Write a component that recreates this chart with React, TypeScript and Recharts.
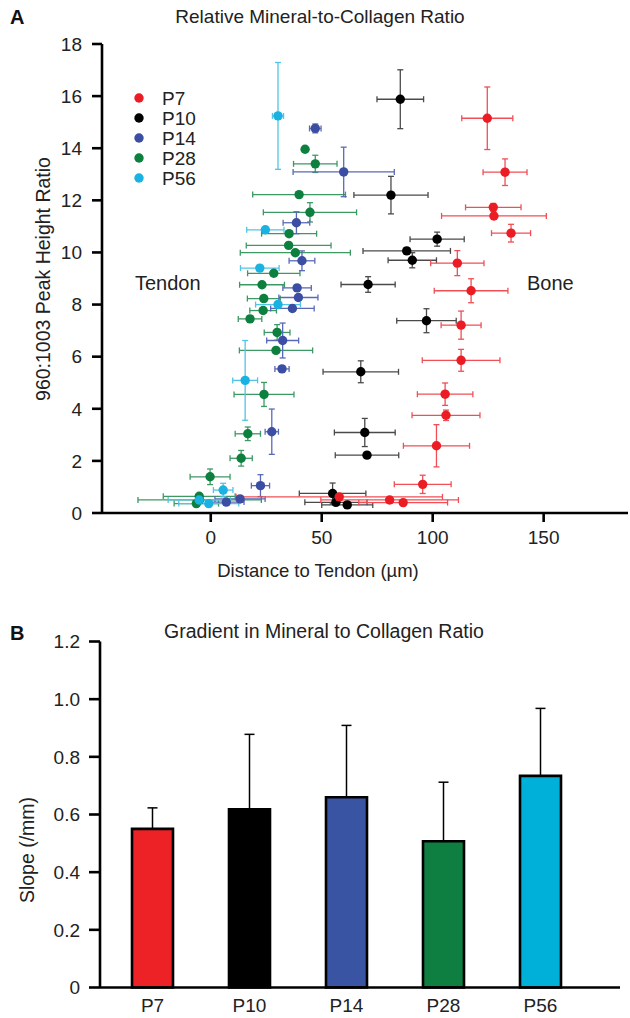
import React from 'react';
import { ScatterChart, Scatter, XAxis, YAxis, ErrorBar, BarChart, Bar, Cell } from 'recharts';

const FONT = '"Liberation Sans", Arial, Helvetica, sans-serif';

// ---- Panel A data ----
const seriesNames = ['P7', 'P10', 'P14', 'P28', 'P56'];
const seriesColors = ['#ec1c24', '#000000', '#3b4ea3', '#0d7f3f', '#1ab2e1'];
const errorColors = ['#ef4f55', '#4a4a4a', '#5a69b6', '#3d9963', '#52c4e6'];

const p7X = [124.6, 132.6, 127.3, 127.6, 135.3, 111.1, 117.3, 112.8, 112.8, 105.6, 106.0, 101.7, 95.5, 80.6, 86.7, 57.9];
const p7Y = [15.15, 13.08, 11.73, 11.4, 10.74, 9.59, 8.53, 7.21, 5.86, 4.56, 3.75, 2.58, 1.1, 0.5, 0.4, 0.62];
const p7XErr = [11.5, 9.9, 12.5, 23.6, 8.8, 12.0, 16.6, 9.0, 17.5, 12.5, 15.3, 14.9, 12.8, 31.0, 20.0, 46.5];
const p7YErr = [1.2, 0.51, 0.15, 0.1, 0.34, 0.48, 0.46, 0.54, 0.42, 0.43, 0.2, 0.81, 0.35, 0.1, 0.1, 0.1];

const p10X = [85.4, 81.2, 102.0, 88.3, 90.8, 70.9, 97.2, 67.6, 69.4, 70.4, 54.9, 56.4, 61.5];
const p10Y = [15.88, 12.2, 10.51, 10.06, 9.7, 8.77, 7.38, 5.42, 3.09, 2.22, 0.75, 0.41, 0.31];
const p10XErr = [10.5, 16.7, 12.2, 19.7, 10.9, 12.2, 13.4, 17.0, 13.7, 14.3, 15.0, 14.0, 11.5];
const p10YErr = [1.13, 0.72, 0.27, 0.1, 0.29, 0.3, 0.46, 0.42, 0.54, 0.1, 0.4, 0.1, 0.1];

const p14X = [47.1, 59.9, 38.6, 41.1, 38.9, 39.5, 36.8, 32.4, 32.1, 27.5, 22.4, 13.2, 7.0];
const p14Y = [14.76, 13.09, 11.14, 9.68, 8.64, 8.27, 7.85, 6.62, 5.53, 3.12, 1.05, 0.54, 0.42];
const p14XErr = [2.6, 22.8, 6.0, 5.8, 6.4, 8.8, 9.8, 7.2, 3.2, 3.0, 4.1, 11.3, 8.0];
const p14YErr = [0.17, 0.95, 0.42, 0.38, 0.1, 0.1, 0.1, 0.67, 0.1, 0.87, 0.42, 0.1, 0.1];

const p28X = [42.5, 47.1, 39.8, 44.7, 35.3, 35.1, 38.1, 28.4, 23.1, 23.9, 23.6, 17.7, 29.9, 29.4, 24.0, 16.7, 13.7, -0.3, -5.2, -5.0, -6.5];
const p28Y = [13.96, 13.4, 12.22, 11.54, 10.72, 10.27, 9.99, 9.2, 8.76, 8.23, 7.77, 7.45, 6.93, 6.24, 4.55, 3.04, 2.1, 1.39, 0.64, 0.5, 0.36];
const p28XErr = [0, 9.8, 20.9, 21.0, 12.4, 19.1, 24.8, 11.8, 10.1, 7.4, 6.0, 5.3, 5.8, 16.5, 13.5, 5.7, 5.0, 9.0, 16.2, 27.8, 10.0];
const p28YErr = [0, 0.33, 0.1, 0.37, 0.1, 0.1, 0.1, 0.1, 0.1, 0.1, 0.1, 0.1, 0.3, 0.1, 0.46, 0.26, 0.3, 0.3, 0.1, 0.1, 0.1];

const p56X = [30.3, 24.6, 22.1, 30.3, 15.5, 5.6, -5.2, -0.9];
const p56Y = [15.24, 10.87, 9.4, 8.0, 5.09, 0.88, 0.5, 0.36];
const p56XErr = [2.5, 8.4, 8.7, 10.1, 5.6, 4.4, 14.0, 13.5];
const p56YErr = [2.05, 0.1, 0.1, 0.1, 1.53, 0.26, 0.1, 0.1];

const xTicks = [0, 50, 100, 150];
const yTicks = [0, 2, 4, 6, 8, 10, 12, 14, 16, 18];

// ---- Panel B data ----
const barCategories = ['P7', 'P10', 'P14', 'P28', 'P56'];
const barValues = [0.55, 0.618, 0.66, 0.507, 0.734];
const barErrors = [0.073, 0.26, 0.249, 0.205, 0.234];
const barColors = ['#ec2227', '#000000', '#3a54a4', '#0e7f41', '#00b0d9'];
const barTicks = [0, 0.2, 0.4, 0.6, 0.8, 1.0, 1.2];

const build = (xs: number[], ys: number[], exs: number[], eys: number[]) =>
  xs.map((x, i) => ({ x, y: ys[i], ex: exs[i], ey: eys[i] }));

const scatterSeries = [
  { name: 'P7', data: build(p7X, p7Y, p7XErr, p7YErr), idx: 0 },
  { name: 'P10', data: build(p10X, p10Y, p10XErr, p10YErr), idx: 1 },
  { name: 'P14', data: build(p14X, p14Y, p14XErr, p14YErr), idx: 2 },
  { name: 'P28', data: build(p28X, p28Y, p28XErr, p28YErr), idx: 3 },
  { name: 'P56', data: build(p56X, p56Y, p56XErr, p56YErr), idx: 4 },
];
const drawOrder = ['P28', 'P14', 'P56', 'P10', 'P7'];

const barData = barCategories.map((name, i) => ({ name, value: barValues[i], err: [0, barErrors[i]] }));

const dotShape = (color: string) => (props: any) => {
  const cx = props.cx ?? (props.x + (props.width || 0) / 2);
  const cy = props.cy ?? (props.y + (props.height || 0) / 2);
  return <circle cx={cx} cy={cy} r={4.7} fill={color} />;
};

const axisStyle = { stroke: '#000', strokeWidth: 2.6 };
const tickStyle = { fill: '#222', fontSize: 19, fontFamily: FONT };

export default function App() {
  return (
    <div style={{ position: 'absolute', left: 0, top: 0, width: 630, height: 1018, background: '#fff', fontFamily: FONT }}>
      <div style={{ position: 'absolute', left: 0, top: 0 }}>
        <ScatterChart width={630} height={590} margin={{ top: 44, right: 2, bottom: 27, left: 0 }}>
          <XAxis
            type="number"
            dataKey="x"
            domain={[-49, 188]}
            ticks={xTicks}
            allowDataOverflow
            height={50}
            tickSize={9}
            tickMargin={9}
            axisLine={axisStyle}
            tickLine={axisStyle}
            tick={tickStyle}
          />
          <YAxis
            type="number"
            dataKey="y"
            domain={[0, 18]}
            ticks={yTicks}
            allowDataOverflow
            width={102}
            tickSize={10}
            tickMargin={10}
            axisLine={axisStyle}
            tickLine={axisStyle}
            tick={tickStyle}
          />
          {drawOrder.map((n) => {
            const s = scatterSeries.find((q) => q.name === n)!;
            return (
              <Scatter key={n} name={n} data={s.data} isAnimationActive={false} shape={dotShape(seriesColors[s.idx])}>
                <ErrorBar dataKey="ex" direction="x" width={3} stroke={errorColors[s.idx]} strokeWidth={1.3} isAnimationActive={false} />
                <ErrorBar dataKey="ey" direction="y" width={3} stroke={errorColors[s.idx]} strokeWidth={1.3} isAnimationActive={false} />
              </Scatter>
            );
          })}
        </ScatterChart>
      </div>

      <div style={{ position: 'absolute', left: 0, top: 600 }}>
        <BarChart width={630} height={418} data={barData} margin={{ top: 41.5, right: 10, bottom: 0, left: 0 }}>
          <XAxis
            dataKey="name"
            height={30.5}
            tickLine={false}
            axisLine={axisStyle}
            tick={tickStyle}
            tickMargin={5}
            padding={{ left: 4, right: 31 }}
          />
          <YAxis
            type="number"
            domain={[0, 1.2]}
            ticks={barTicks}
            width={100}
            tickSize={11}
            tickMargin={9}
            axisLine={axisStyle}
            tickLine={axisStyle}
            tick={tickStyle}
            tickFormatter={(v: number) => (v === 0 ? '0' : v.toFixed(1))}
          />
          <Bar dataKey="value" barSize={41} stroke="#000" strokeWidth={2.6} isAnimationActive={false}>
            {barData.map((d, i) => (
              <Cell key={d.name} fill={barColors[i]} />
            ))}
            <ErrorBar dataKey="err" direction="y" width={5} stroke="#000" strokeWidth={1.5} isAnimationActive={false} />
          </Bar>
        </BarChart>
      </div>

      <svg width={630} height={1018} style={{ position: 'absolute', left: 0, top: 0, pointerEvents: 'none' }}>
        <g fontFamily={FONT} fill="#222">
          <text x={10} y={24} fontSize={20} fontWeight="bold" fill="#111">A</text>
          <text x={320} y={23} fontSize={19} textAnchor="middle">Relative Mineral-to-Collagen Ratio</text>
          <text x={0} y={0} fontSize={19.5} textAnchor="middle" transform="translate(50,279) rotate(-90)">960:1003 Peak Height Ratio</text>
          <text x={318} y={577} fontSize={18.5} textAnchor="middle">Distance to Tendon (µm)</text>
          <text x={135} y={290} fontSize={20}>Tendon</text>
          <text x={527} y={290} fontSize={20}>Bone</text>
          {seriesNames.map((n, i) => (
            <g key={n}>
              <circle cx={139} cy={98 + i * 20} r={4.7} fill={seriesColors[i]} />
              <text x={162} y={104.5 + i * 20} fontSize={19}>{n}</text>
            </g>
          ))}
          <text x={10} y={640} fontSize={20} fontWeight="bold" fill="#111">B</text>
          <text x={324} y={638} fontSize={19.5} textAnchor="middle">Gradient in Mineral to Collagen Ratio</text>
          <text x={0} y={0} fontSize={19.5} textAnchor="middle" transform="translate(34,850) rotate(-90)">Slope (/mm)</text>
        </g>
      </svg>
    </div>
  );
}
